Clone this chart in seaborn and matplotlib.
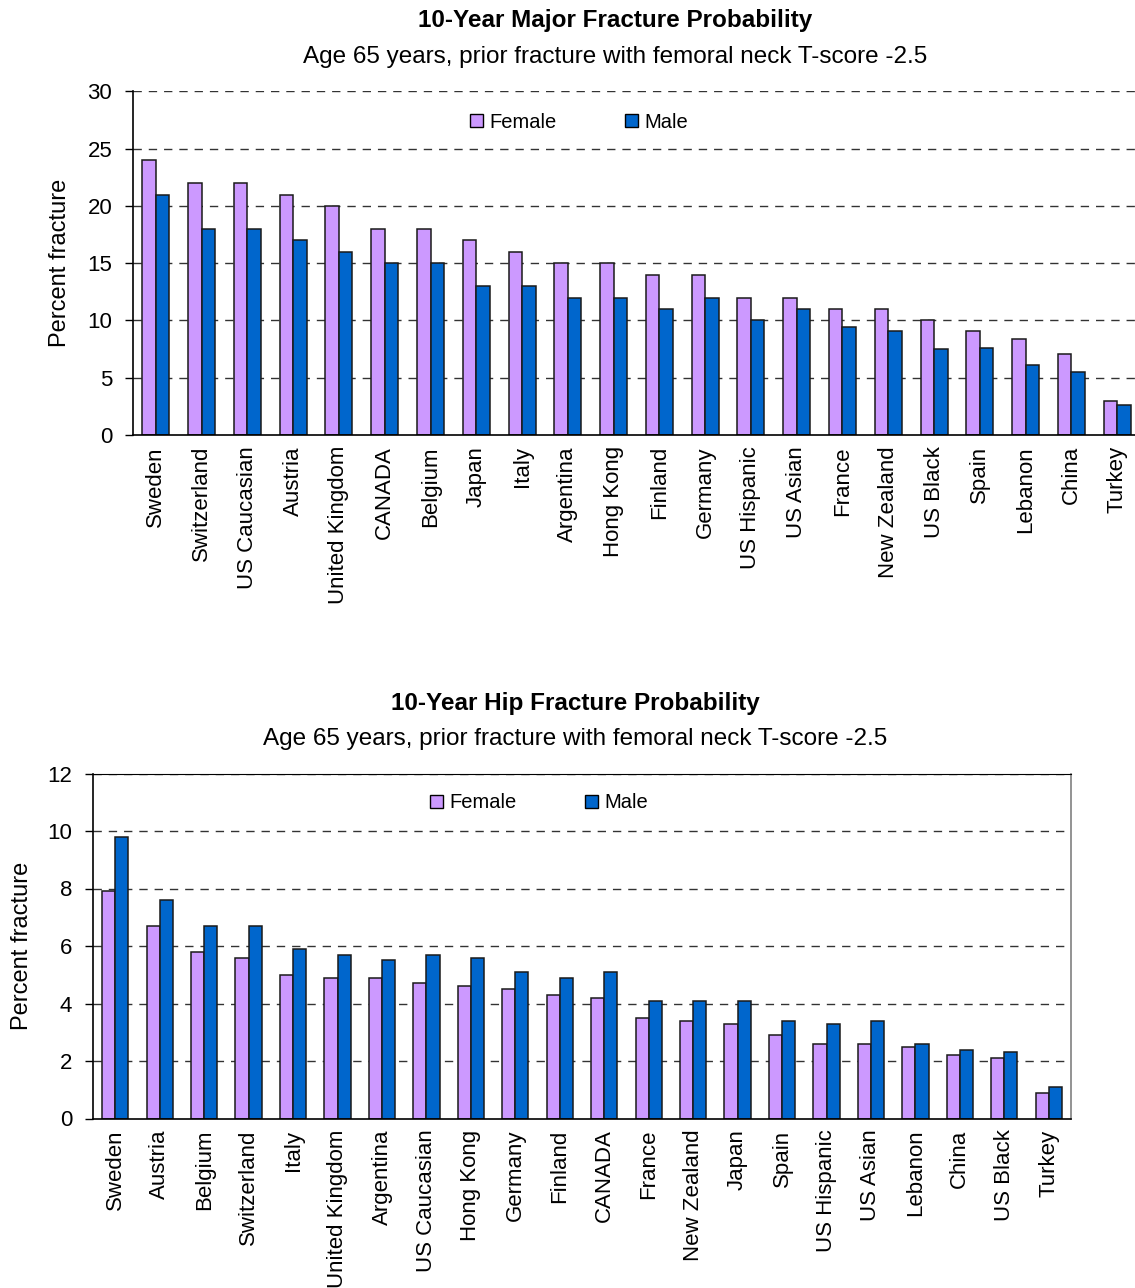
import matplotlib
matplotlib.use("Agg")
import matplotlib.pyplot as plt
import seaborn as sns
import pandas as pd
from matplotlib.patches import Patch

# Major fracture probability (%), age 65, prior fracture, femoral neck T-score -2.5
major_countries = ["Sweden", "Switzerland", "US Caucasian", "Austria", "United Kingdom",
                   "CANADA", "Belgium", "Japan", "Italy", "Argentina", "Hong Kong",
                   "Finland", "Germany", "US Hispanic", "US Asian", "France",
                   "New Zealand", "US Black", "Spain", "Lebanon", "China", "Turkey"]
major_female = [24, 22, 22, 21, 20, 18, 18, 17, 16, 15, 15, 14, 14, 12, 12, 11, 11, 10,
                9.1, 8.4, 7.1, 3.0]
major_male = [21, 18, 18, 17, 16, 15, 15, 13, 13, 12, 12, 11, 12, 10, 11, 9.4, 9.1, 7.5,
              7.6, 6.1, 5.5, 2.6]

# Hip fracture probability (%)
hip_countries = ["Sweden", "Austria", "Belgium", "Switzerland", "Italy", "United Kingdom",
                 "Argentina", "US Caucasian", "Hong Kong", "Germany", "Finland", "CANADA",
                 "France", "New Zealand", "Japan", "Spain", "US Hispanic", "US Asian",
                 "Lebanon", "China", "US Black", "Turkey"]
hip_female = [7.9, 6.7, 5.8, 5.6, 5.0, 4.9, 4.9, 4.7, 4.6, 4.5, 4.3, 4.2, 3.5, 3.4, 3.3,
              2.9, 2.6, 2.6, 2.5, 2.2, 2.1, 0.9]
hip_male = [9.8, 7.6, 6.7, 6.7, 5.9, 5.7, 5.5, 5.7, 5.6, 5.1, 4.9, 5.1, 4.1, 4.1, 4.1,
            3.4, 3.3, 3.4, 2.6, 2.4, 2.3, 1.1]

series_names = ["Female", "Male"]
colors = {"Female": "#CC99FF", "Male": "#0066CC"}

sns.set_style("white")
plt.rcParams["font.family"] = ["Liberation Sans", "DejaVu Sans"]
plt.rcParams["text.color"] = "black"
plt.rcParams["xtick.color"] = "black"
plt.rcParams["ytick.color"] = "black"
plt.rcParams["axes.labelcolor"] = "black"


def long_frame(countries, female, male):
    rows = []
    for c, f, m in zip(countries, female, male):
        rows.append({"country": c, "sex": "Female", "value": f})
        rows.append({"country": c, "sex": "Male", "value": m})
    return pd.DataFrame(rows)


fig = plt.figure(figsize=(11.35, 12.88), dpi=100)
W, H = 1135.0, 1288.0


def panel(rect, countries, female, male, ymax, step, boxed, legend_xy, ylabel_x):
    ax = fig.add_axes(rect)
    df = long_frame(countries, female, male)
    sns.barplot(data=df, x="country", y="value", hue="sex", order=countries,
                hue_order=series_names, palette=colors, width=0.59, saturation=1,
                edgecolor="#1a1a1a", linewidth=1.1, ax=ax, legend=False, errorbar=None)
    ax.set_ylim(0, ymax)
    ax.set_xlim(-0.5, len(countries) - 0.5)
    ticks = list(range(0, ymax + 1, step))
    ax.set_yticks(ticks)
    ax.set_yticklabels([str(t) for t in ticks], fontsize=16)
    for t in ticks[1:]:
        ax.axhline(t, color="#333333", lw=1.0, ls=(0, (6, 5)), zorder=0)
    ax.set_axisbelow(True)
    ax.tick_params(axis="y", length=6, width=1, direction="out", left=True, pad=9,
                   colors="black")
    ax.tick_params(axis="x", length=0, pad=8, colors="black")
    ax.set_xticks(range(len(countries)))
    ax.set_xticklabels(countries, rotation=90, fontsize=16)
    ax.set_xlabel("")
    ax.set_ylabel("")
    for s in ["left", "bottom"]:
        ax.spines[s].set_color("black")
        ax.spines[s].set_linewidth(1.2)
    if boxed:
        ax.spines["top"].set_visible(True)
        ax.spines["top"].set_color("black")
        ax.spines["right"].set_visible(True)
        ax.spines["right"].set_color("#808080")
        ax.spines["right"].set_linewidth(1.2)
    else:
        ax.spines["top"].set_visible(False)
        ax.spines["right"].set_visible(False)
    handles = [Patch(facecolor=colors[n], edgecolor="black", lw=1.0) for n in series_names]
    fig.legend(handles, series_names, loc="center left",
               bbox_to_anchor=(legend_xy[0] / W, 1 - legend_xy[1] / H),
               ncol=2, frameon=False, fontsize=14.5, handlelength=0.65, handleheight=0.65,
               handletextpad=0.3, columnspacing=3.4, borderaxespad=0, borderpad=0)
    fig.text(ylabel_x / W, rect[1] + rect[3] / 2, "Percent fracture",
             rotation=90, fontsize=17, ha="center", va="center")
    return ax


# Upper panel: major osteoporotic fracture (extends slightly past the right edge)
panel([133 / W, 1 - 435 / H, (1140 - 133) / W, (435 - 91.5) / H],
      major_countries, major_female, major_male, 30, 5, False, (470, 122), 60)
fig.text(615 / W, 1 - 20 / H, "10-Year Major Fracture Probability",
         fontsize=17.5, fontweight="bold", ha="center", va="center")
fig.text(615 / W, 1 - 57 / H, "Age 65 years, prior fracture with femoral neck T-score -2.5",
         fontsize=17.5, ha="center", va="center")

# Lower panel: hip fracture
panel([93 / W, 1 - 1118.5 / H, (1071 - 93) / W, (1118.5 - 773.5) / H],
      hip_countries, hip_female, hip_male, 12, 2, True, (430, 803), 22)
fig.text(575 / W, 1 - 703 / H, "10-Year Hip Fracture Probability",
         fontsize=17.5, fontweight="bold", ha="center", va="center")
fig.text(575 / W, 1 - 739 / H, "Age 65 years, prior fracture with femoral neck T-score -2.5",
         fontsize=17.5, ha="center", va="center")

fig.savefig("out.png", dpi=100)
